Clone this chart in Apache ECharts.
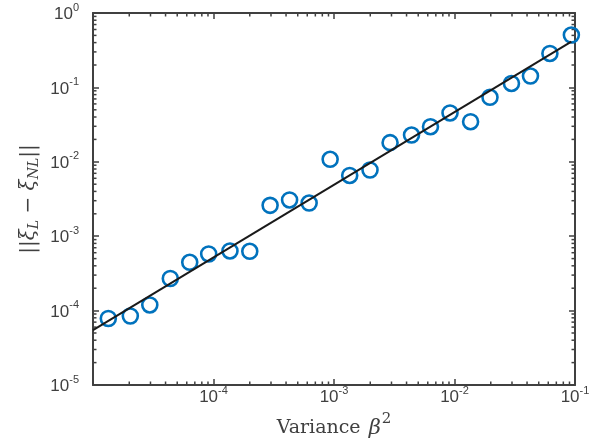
<!DOCTYPE html>
<html><head><meta charset="utf-8">
<script src="https://cdn.jsdelivr.net/npm/echarts@6/dist/echarts.min.js"></script>
<style>html,body{margin:0;padding:0;background:#fff}#c{width:602px;height:444px}</style>
</head><body><div id="c"></div>
<script>
// ---- data ----
const varianceX = [1.34e-5, 2.04e-5, 2.96e-5, 4.38e-5, 6.35e-5, 9.12e-5, 1.37e-4, 2.0e-4,
  2.95e-4, 4.28e-4, 6.22e-4, 9.29e-4, 1.35e-3, 1.99e-3, 2.92e-3, 4.40e-3, 6.32e-3, 9.18e-3,
  1.36e-2, 1.97e-2, 2.97e-2, 4.27e-2, 6.19e-2, 9.33e-2];
const errorY = [7.83e-5, 8.46e-5, 1.19e-4, 2.70e-4, 4.46e-4, 5.77e-4, 6.33e-4, 6.27e-4,
  2.60e-3, 3.07e-3, 2.79e-3, 1.08e-2, 6.55e-3, 7.76e-3, 1.81e-2, 2.29e-2, 2.96e-2, 4.53e-2,
  3.46e-2, 7.36e-2, 0.113, 0.142, 0.286, 0.506];
const fitX = [1e-5, 9.33e-2];
const fitY = [5.48e-5, 0.411];
// axis decorations
const xMin = 1e-5, xMax = 1e-1, yMin = 1e-5, yMax = 1;
const xDecades = [1e-5, 1e-4, 1e-3, 1e-2];
const yDecades = [1e-5, 1e-4, 1e-3, 1e-2, 1e-1];
const minorMantissas = [2, 3, 4, 5, 6, 7, 8, 9];

const AX = '#404040';
const SANS = '"Liberation Sans", Arial, Helvetica, sans-serif';
const SERIF = '"DejaVu Serif", "Liberation Serif", serif';

const xMinor = [];
xDecades.forEach(d => minorMantissas.forEach(m => xMinor.push(m * d)));
const yMinor = [];
yDecades.forEach(d => minorMantissas.forEach(m => yMinor.push(m * d)));

function supLabel(v) {
  const e = Math.round(Math.log10(v));
  return '{b|10}{s|' + e + '}';
}
// tokens are centred on the line; bottom padding on the exponent raises it
const labelRich = {
  b: { fontSize: 17, fontFamily: SANS, color: AX, lineHeight: 17 },
  s: { fontSize: 11, fontFamily: SANS, color: AX, lineHeight: 11, padding: [0, 0, 14, 0] }
};

function axisCommon() {
  return {
    type: 'log', logBase: 10,
    axisLine: { show: true, onZero: false, lineStyle: { color: AX, width: 2 } },
    axisTick: { show: true, inside: true, length: 6, lineStyle: { color: AX, width: 1.5 } },
    splitLine: { show: false },
    minorTick: { show: false },
  };
}

const xBottom = Object.assign(axisCommon(), {
  position: 'bottom', min: xMin, max: xMax, splitNumber: 4,
  axisLabel: { show: true, formatter: supLabel, rich: labelRich, margin: 4, showMinLabel: false },
  name: '{n|Variance }{g|β}{s|2}', nameLocation: 'middle', nameGap: 33, nameMoveOverlap: false,
  nameTextStyle: {
    rich: {
      n: { fontSize: 19, fontFamily: SERIF, color: AX, lineHeight: 19 },
      g: { fontSize: 21, fontFamily: SERIF, fontStyle: 'italic', color: AX, lineHeight: 21, padding: [0, 1, 0, 2] },
      s: { fontSize: 15, fontFamily: SERIF, color: AX, lineHeight: 15, padding: [0, 0, 19, 0] }
    }
  }
});
const xTop = Object.assign(axisCommon(), {
  position: 'top', min: xMin, max: xMax, splitNumber: 4,
  axisLabel: { show: false }
});
const yLeft = Object.assign(axisCommon(), {
  position: 'left', min: yMin, max: yMax, splitNumber: 5,
  axisLabel: { show: true, formatter: supLabel, rich: labelRich, margin: 14, padding: [3, 0, 0, 0] },
  name: '{t|||}{i|ξ}{sub|L}{t| − }{i|ξ}{sub|NL}{t|||}',
  nameLocation: 'middle', nameRotate: 90, nameGap: 54, nameMoveOverlap: false,
  nameTextStyle: {
    rich: {
      t: { fontSize: 20, fontFamily: SERIF, color: AX, lineHeight: 20 },
      i: { fontSize: 20, fontFamily: SERIF, fontStyle: 'italic', color: AX, lineHeight: 20 },
      sub: { fontSize: 14, fontFamily: SERIF, fontStyle: 'italic', color: AX, lineHeight: 14, padding: [10, 0, 0, 0] }
    }
  }
});
const yRight = Object.assign(axisCommon(), {
  position: 'right', min: yMin, max: yMax, splitNumber: 5,
  axisLabel: { show: false }
});

function minorTicksRender(params, api) {
  const cs = params.coordSys;
  const L = 3.5;
  const style = { stroke: AX, lineWidth: 1.5 };
  const children = [];
  const yRef = api.value(1), xRef = api.value(0);
  xMinor.forEach(v => {
    if (v <= xMin || v >= xMax) return;
    const px = api.coord([v, yRef])[0];
    children.push({ type: 'line', shape: { x1: px, y1: cs.y + cs.height, x2: px, y2: cs.y + cs.height - L }, style });
    children.push({ type: 'line', shape: { x1: px, y1: cs.y, x2: px, y2: cs.y + L }, style });
  });
  yMinor.forEach(v => {
    if (v <= yMin || v >= yMax) return;
    const py = api.coord([xRef, v])[1];
    children.push({ type: 'line', shape: { x1: cs.x, y1: py, x2: cs.x + L, y2: py }, style });
    children.push({ type: 'line', shape: { x1: cs.x + cs.width, y1: py, x2: cs.x + cs.width - L, y2: py }, style });
  });
  return { type: 'group', children };
}

const chart = echarts.init(document.getElementById('c'), null, { renderer: 'canvas' });
chart.setOption({
  animation: false,
  backgroundColor: '#fff',
  grid: { left: 93, right: 27, top: 13, bottom: 59, containLabel: false, outerBoundsMode: 'none' },
  xAxis: [xBottom, xTop],
  yAxis: [yLeft, yRight],
  series: [
    {
      type: 'custom', xAxisIndex: 0, yAxisIndex: 0, clip: false, silent: true,
      renderItem: minorTicksRender, data: [[1e-3, 1e-3]], z: 1
    },
    {
      type: 'scatter', xAxisIndex: 0, yAxisIndex: 0,
      data: varianceX.map((x, i) => [x, errorY[i]]),
      symbol: 'circle', symbolSize: 15,
      itemStyle: { color: 'rgba(255,255,255,0)', borderColor: '#0072BD', borderWidth: 2.6, opacity: 1 },
      z: 2
    },
    {
      type: 'line', xAxisIndex: 0, yAxisIndex: 0,
      data: fitX.map((x, i) => [x, fitY[i]]),
      showSymbol: false, symbol: 'none',
      lineStyle: { color: '#1a1a1a', width: 2 },
      z: 3
    }
  ]
});
</script>
</body></html>
